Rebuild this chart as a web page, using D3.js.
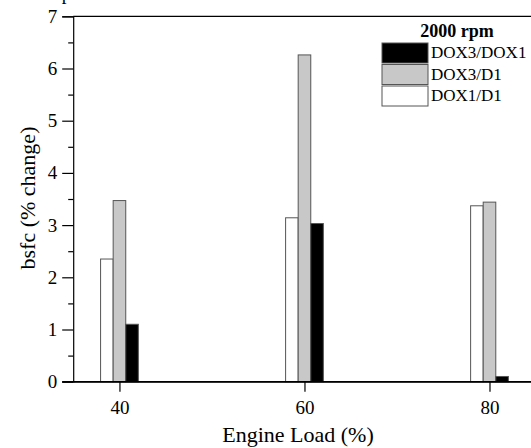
<!DOCTYPE html>
<html><head><meta charset="utf-8">
<script src="https://cdn.jsdelivr.net/npm/d3@7"></script>
<style>
html,body{margin:0;padding:0;background:#fff;overflow:hidden}
svg{display:block;font-family:"Liberation Serif","Times New Roman",serif}
</style></head><body>
<div id="chart"></div>
<script>
const loads = [40, 60, 80];
const seriesNames = ["DOX1/D1", "DOX3/D1", "DOX3/DOX1"];
const dox1_d1 = [2.35, 3.14, 3.37];
const dox3_d1 = [3.47, 6.26, 3.44];
const dox3_dox1 = [1.10, 3.03, 0.10];
const yTicks = [0, 1, 2, 3, 4, 5, 6, 7];
const legendTitle = "2000 rpm";
const legendOrder = ["DOX3/DOX1", "DOX3/D1", "DOX1/D1"];
const xTitle = "Engine Load (%)";
const yTitle = "bsfc (% change)";
const topText = "Experimental results";

const W = 531, H = 448;
const SERIF = "Liberation Serif";
const fills = {"DOX1/D1": "#ffffff", "DOX3/D1": "#c8c8c8", "DOX3/DOX1": "#000000"};
const seriesVals = {"DOX1/D1": dox1_d1, "DOX3/D1": dox3_d1, "DOX3/DOX1": dox3_dox1};

const svg = d3.select("#chart").append("svg").attr("width", W).attr("height", H)
  .attr("font-family", SERIF);

const x = d3.scaleLinear().domain([35, 90]).range([73.2, 582]);
const y = d3.scaleLinear().domain([0, 7]).range([381.7, 16.3]);
const barW = 1.36; // in data units

// cropped title at top (only the bottoms of glyphs show in the reference)
svg.append("text").attr("x", 38).attr("y", -0.5).attr("font-size", 19)
  .attr("textLength", 182).text(topText);

// bars
seriesNames.forEach((s, i) => {
  svg.append("g").selectAll("rect").data(loads).join("rect")
    .attr("x", (d) => x(d + (i - 1.5) * barW))
    .attr("width", x(barW) - x(0))
    .attr("y", (d, j) => y(seriesVals[s][j]))
    .attr("height", (d, j) => y(0) - y(seriesVals[s][j]))
    .attr("fill", fills[s])
    .attr("stroke", "#555")
    .attr("stroke-width", 1);
});

// frame top
svg.append("line").attr("x1", x(35)).attr("x2", W + 5).attr("y1", y(7)).attr("y2", y(7))
  .attr("stroke", "#000").attr("stroke-width", 1.2);

// y axis
const yAxis = d3.axisLeft(y).tickValues(yTicks).tickFormat(d3.format("d")).tickSize(11).tickPadding(5);
const gy = svg.append("g").attr("transform", `translate(${x(35)},0)`).call(yAxis);
gy.attr("font-family", SERIF);
gy.select(".domain").attr("stroke-width", 1.2);
gy.selectAll(".tick line").attr("stroke-width", 1.2);
gy.selectAll("text").attr("font-size", 19);
const yMinor = d3.axisLeft(y).tickValues(d3.range(0.5, 7, 1)).tickSize(5).tickFormat("");
const gym = svg.append("g").attr("transform", `translate(${x(35)},0)`).call(yMinor);
gym.select(".domain").remove();
gym.selectAll(".tick line").attr("stroke-width", 1.2);

// x axis
const xAxis = d3.axisBottom(x).tickValues(loads).tickSize(10).tickPadding(9).tickSizeOuter(0);
const gx = svg.append("g").attr("transform", `translate(0,${y(0)})`).call(xAxis);
gx.attr("font-family", SERIF);
gx.select(".domain").attr("stroke-width", 1.2);
gx.selectAll(".tick line").attr("stroke-width", 1.2);
gx.selectAll("text").attr("font-size", 19);
// zero line extension to the left (major tick)
svg.append("line").attr("x1", x(35) - 11).attr("x2", W + 5).attr("y1", y(0)).attr("y2", y(0))
  .attr("stroke", "#000").attr("stroke-width", 1.2);

// axis titles
svg.append("text").attr("x", 298).attr("y", 442).attr("text-anchor", "middle")
  .attr("font-size", 22).text(xTitle);
svg.append("text").attr("transform", "translate(35,198) rotate(-90)").attr("text-anchor", "middle")
  .attr("font-size", 22).text(yTitle);

// legend
const lg = svg.append("g");
lg.append("text").attr("x", 457).attr("y", 37).attr("text-anchor", "middle")
  .attr("font-size", 18).attr("font-weight", "bold").text(legendTitle);
legendOrder.forEach((s, i) => {
  const yy = 43 + i * 21.5;
  lg.append("rect").attr("x", 382).attr("y", yy).attr("width", 46).attr("height", 20)
    .attr("fill", fills[s]).attr("stroke", "#555").attr("stroke-width", 1);
  lg.append("text").attr("x", 431).attr("y", yy + 15).attr("font-size", 17).text(s);
});
</script></body></html>
